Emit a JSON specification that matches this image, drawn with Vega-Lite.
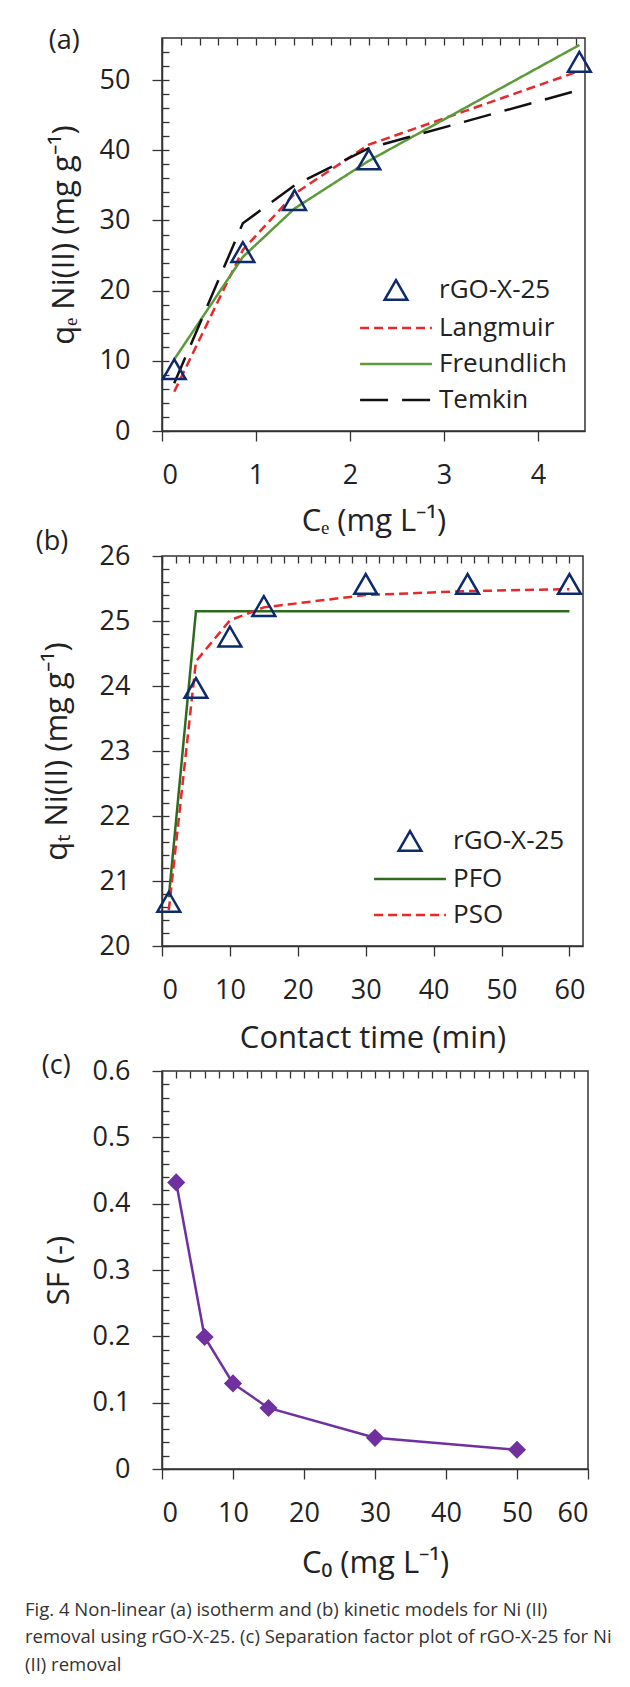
{
  "$schema": "https://vega.github.io/schema/vega-lite/v6.json",
  "background": "white",
  "padding": {"left": 25, "top": 26, "right": 5, "bottom": 5},
  "spacing": 125,
  "bounds": "flush",
  "config": {
    "font": "Open Sans",
    "view": {"stroke": "#333333", "strokeWidth": 1.5},
    "axis": {"grid": false, "domainColor": "#333333", "domainWidth": 1.5, "tickColor": "#333333", "tickWidth": 1.3, "labelFont": "Open Sans", "labelFontSize": 27, "labelColor": "#222222", "titleFont": "Open Sans", "titleFontSize": 31, "titleFontWeight": "normal", "titleColor": "#222222"},
    "legend": {"orient": "bottom-right", "offset": 18, "padding": 0, "labelFont": "Open Sans", "labelFontSize": 26, "labelColor": "#222222", "symbolSize": 520, "symbolStrokeWidth": 2.5, "symbolFillColor": "transparent", "labelOffset": 30, "rowPadding": 10, "symbolOpacity": 1}
  },
  "datasets": {
    "iso": [
      {"series": "rGO-X-25", "C": 0.13, "q": 8.8},
      {"series": "rGO-X-25", "C": 0.86, "q": 25.5},
      {"series": "rGO-X-25", "C": 1.41, "q": 32.9},
      {"series": "rGO-X-25", "C": 2.2, "q": 38.7},
      {"series": "rGO-X-25", "C": 4.44, "q": 52.6},
      {"series": "Langmuir", "C": 0.13, "q": 5.6},
      {"series": "Langmuir", "C": 0.86, "q": 25.8},
      {"series": "Langmuir", "C": 1.41, "q": 33.8},
      {"series": "Langmuir", "C": 2.2, "q": 40.8},
      {"series": "Langmuir", "C": 4.44, "q": 51.3},
      {"series": "Freundlich", "C": 0.13, "q": 10.2},
      {"series": "Freundlich", "C": 0.86, "q": 24.8},
      {"series": "Freundlich", "C": 1.41, "q": 31.7},
      {"series": "Freundlich", "C": 2.2, "q": 38.5},
      {"series": "Freundlich", "C": 4.44, "q": 55.0},
      {"series": "Temkin", "C": 0.13, "q": 6.8},
      {"series": "Temkin", "C": 0.86, "q": 29.6},
      {"series": "Temkin", "C": 1.41, "q": 35.0},
      {"series": "Temkin", "C": 2.2, "q": 40.3},
      {"series": "Temkin", "C": 4.44, "q": 48.6}
    ],
    "kin": [
      {"series": "rGO-X-25", "t": 1, "q": 20.68},
      {"series": "rGO-X-25", "t": 5, "q": 23.97},
      {"series": "rGO-X-25", "t": 10, "q": 24.76},
      {"series": "rGO-X-25", "t": 15, "q": 25.23},
      {"series": "rGO-X-25", "t": 30, "q": 25.57},
      {"series": "rGO-X-25", "t": 45, "q": 25.57},
      {"series": "rGO-X-25", "t": 60, "q": 25.57},
      {"series": "PFO", "t": 1, "q": 20.75},
      {"series": "PFO", "t": 5, "q": 25.15},
      {"series": "PFO", "t": 10, "q": 25.15},
      {"series": "PFO", "t": 15, "q": 25.15},
      {"series": "PFO", "t": 30, "q": 25.15},
      {"series": "PFO", "t": 45, "q": 25.15},
      {"series": "PFO", "t": 60, "q": 25.15},
      {"series": "PSO", "t": 1, "q": 20.55},
      {"series": "PSO", "t": 5, "q": 24.38},
      {"series": "PSO", "t": 10, "q": 25.01},
      {"series": "PSO", "t": 15, "q": 25.21},
      {"series": "PSO", "t": 30, "q": 25.4},
      {"series": "PSO", "t": 45, "q": 25.46},
      {"series": "PSO", "t": 60, "q": 25.49}
    ],
    "sf": [
      {"C0": 2, "SF": 0.432},
      {"C0": 6, "SF": 0.199},
      {"C0": 10, "SF": 0.129},
      {"C0": 15, "SF": 0.092},
      {"C0": 30, "SF": 0.047},
      {"C0": 50, "SF": 0.029}
    ]
  },
  "title": {
    "text": ["Fig. 4 Non-linear (a) isotherm and (b) kinetic models for Ni (II)", "removal using rGO-X-25. (c) Separation factor plot of rGO-X-25 for Ni", "(II) removal"],
    "orient": "bottom", "anchor": "start", "baseline": "top",
    "font": "Open Sans", "fontSize": 18.5, "fontWeight": "normal", "color": "#333333", "lineHeight": 27.5,
    "offset": 22, "dx": -10
  },
  "resolve": {
    "scale": {"color": "independent", "shape": "independent", "strokeDash": "independent"},
    "legend": {"color": "independent", "shape": "independent", "strokeDash": "independent"}
  },
  "vconcat": [
    {
      "width": 423,
      "height": 393,
      "resolve": {"axis": {"x": "independent", "y": "independent"}},
      "layer": [
        {
          "data": {"name": "iso"},
          "transform": [{"filter": "datum.series !== 'rGO-X-25'"}],
          "mark": {"type": "line", "strokeWidth": 2.5},
          "encoding": {
            "x": {"field": "C", "type": "quantitative", "scale": {"domain": [0, 4.5], "nice": false, "zero": false},
              "axis": {"orient": "bottom", "values": [0, 1, 2, 3, 4], "tickSize": 10, "labelPadding": 21, "title": "Cₑ (mg L⁻¹)", "titleY": 90, "titleBaseline": "middle"}},
            "y": {"field": "q", "type": "quantitative", "scale": {"domain": [0, 56], "nice": false, "zero": false},
              "axis": {"orient": "left", "values": [0, 10, 20, 30, 40, 50], "tickSize": 10, "labelPadding": 22, "title": "qₑ Ni(II) (mg g⁻¹)", "titleX": -98, "titleBaseline": "middle"}},
            "color": {"field": "series", "type": "nominal", "title": null,
              "scale": {"domain": ["rGO-X-25", "Langmuir", "Freundlich", "Temkin"], "range": ["#0d2a6b", "#e8282b", "#5c9a3a", "#111111"]}},
            "strokeDash": {"field": "series", "type": "nominal", "title": null,
              "scale": {"domain": ["rGO-X-25", "Langmuir", "Freundlich", "Temkin"], "range": [[1, 0], [9, 5], [1, 0], [28, 14]]}}
          }
        },
        {
          "data": {"name": "iso"},
          "transform": [{"filter": "datum.series === 'rGO-X-25'"}],
          "mark": {"type": "point", "filled": false, "size": 520, "strokeWidth": 2.5, "opacity": 1},
          "encoding": {
            "x": {"field": "C", "type": "quantitative",
              "axis": {"orient": "bottom", "values": [0, 0.2, 0.4, 0.6, 0.8, 1, 1.2, 1.4, 1.6, 1.8, 2, 2.2, 2.4, 2.6, 2.8, 3, 3.2, 3.4, 3.6, 3.8, 4, 4.2, 4.4], "ticks": false, "labels": false, "domain": false, "title": null, "grid": true, "gridDash": [7, 2000], "gridColor": "#333333", "gridWidth": 1.3, "gridOpacity": 1}},
            "y": {"field": "q", "type": "quantitative",
              "axis": {"orient": "left", "values": [0, 2, 4, 6, 8, 10, 12, 14, 16, 18, 20, 22, 24, 26, 28, 30, 32, 34, 36, 38, 40, 42, 44, 46, 48, 50, 52, 54], "ticks": false, "labels": false, "domain": false, "title": null, "grid": true, "gridDash": [7, 2000], "gridColor": "#333333", "gridWidth": 1.3, "gridOpacity": 1}},
            "color": {"field": "series", "type": "nominal", "title": null,
              "scale": {"domain": ["rGO-X-25", "Langmuir", "Freundlich", "Temkin"], "range": ["#0d2a6b", "#e8282b", "#5c9a3a", "#111111"]}},
            "shape": {"field": "series", "type": "nominal", "title": null,
              "scale": {"domain": ["rGO-X-25", "Langmuir", "Freundlich", "Temkin"], "range": ["triangle-up", "M-3.15,0H3.15", "M-3.15,0H3.15", "M-3.15,0H3.15"]}}
          }
        },
        {
          "data": {"values": [{"label": "(a)"}]},
          "mark": {"type": "text", "font": "Open Sans", "fontSize": 27, "color": "#222222"},
          "encoding": {
            "x": {"datum": -1.04, "type": "quantitative", "axis": null},
            "y": {"datum": 55.6, "type": "quantitative", "axis": null},
            "text": {"field": "label"}
          }
        }
      ]
    },
    {
      "width": 421,
      "height": 390,
      "resolve": {"axis": {"x": "independent", "y": "independent"}},
      "layer": [
        {
          "data": {"name": "kin"},
          "transform": [{"filter": "datum.series !== 'rGO-X-25'"}],
          "mark": {"type": "line", "strokeWidth": 2.5},
          "encoding": {
            "x": {"field": "t", "type": "quantitative", "scale": {"domain": [0, 62], "nice": false, "zero": false},
              "axis": {"orient": "bottom", "values": [0, 10, 20, 30, 40, 50, 60], "tickSize": 10, "labelPadding": 21, "title": "Contact time (min)", "titleY": 92, "titleBaseline": "middle"}},
            "y": {"field": "q", "type": "quantitative", "scale": {"domain": [20, 26], "nice": false, "zero": false},
              "axis": {"orient": "left", "values": [20, 21, 22, 23, 24, 25, 26], "tickSize": 10, "labelPadding": 22, "title": "qₜ Ni(II) (mg g⁻¹)", "titleX": -105, "titleBaseline": "middle"}},
            "color": {"field": "series", "type": "nominal", "title": null,
              "scale": {"domain": ["rGO-X-25", "PFO", "PSO"], "range": ["#0d2a6b", "#2f6b1e", "#e8282b"]}},
            "strokeDash": {"field": "series", "type": "nominal", "title": null,
              "scale": {"domain": ["rGO-X-25", "PFO", "PSO"], "range": [[1, 0], [1, 0], [9, 5]]}}
          }
        },
        {
          "data": {"name": "kin"},
          "transform": [{"filter": "datum.series === 'rGO-X-25'"}],
          "mark": {"type": "point", "filled": false, "size": 520, "strokeWidth": 2.5, "opacity": 1},
          "encoding": {
            "x": {"field": "t", "type": "quantitative",
              "axis": {"orient": "bottom", "values": [0, 2, 4, 6, 8, 10, 12, 14, 16, 18, 20, 22, 24, 26, 28, 30, 32, 34, 36, 38, 40, 42, 44, 46, 48, 50, 52, 54, 56, 58, 60], "ticks": false, "labels": false, "domain": false, "title": null, "grid": true, "gridDash": [7, 2000], "gridColor": "#333333", "gridWidth": 1.3, "gridOpacity": 1}},
            "y": {"field": "q", "type": "quantitative",
              "axis": {"orient": "left", "values": [20, 20.2, 20.4, 20.6, 20.8, 21, 21.2, 21.4, 21.6, 21.8, 22, 22.2, 22.4, 22.6, 22.8, 23, 23.2, 23.4, 23.6, 23.8, 24, 24.2, 24.4, 24.6, 24.8, 25, 25.2, 25.4, 25.6, 25.8], "ticks": false, "labels": false, "domain": false, "title": null, "grid": true, "gridDash": [7, 2000], "gridColor": "#333333", "gridWidth": 1.3, "gridOpacity": 1}},
            "color": {"field": "series", "type": "nominal", "title": null,
              "scale": {"domain": ["rGO-X-25", "PFO", "PSO"], "range": ["#0d2a6b", "#2f6b1e", "#e8282b"]}},
            "shape": {"field": "series", "type": "nominal", "title": null,
              "scale": {"domain": ["rGO-X-25", "PFO", "PSO"], "range": ["triangle-up", "M-3.15,0H3.15", "M-3.15,0H3.15"]}}
          }
        },
        {
          "data": {"values": [{"label": "(b)"}]},
          "mark": {"type": "text", "font": "Open Sans", "fontSize": 27, "color": "#222222"},
          "encoding": {
            "x": {"datum": -16.2, "type": "quantitative", "axis": null},
            "y": {"datum": 26.22, "type": "quantitative", "axis": null},
            "text": {"field": "label"}
          }
        }
      ]
    },
    {
      "width": 426,
      "height": 398,
      "resolve": {"axis": {"x": "independent", "y": "independent"}},
      "layer": [
        {
          "data": {"name": "sf"},
          "mark": {"type": "line", "strokeWidth": 2.5, "color": "#7030a0"},
          "encoding": {
            "x": {"field": "C0", "type": "quantitative", "scale": {"domain": [0, 60], "nice": false, "zero": false},
              "axis": {"orient": "bottom", "values": [0, 10, 20, 30, 40, 50, 60], "tickSize": 10, "labelPadding": 21, "title": "C₀ (mg L⁻¹)", "titleY": 94, "titleBaseline": "middle"}},
            "y": {"field": "SF", "type": "quantitative", "scale": {"domain": [0, 0.6], "nice": false, "zero": false},
              "axis": {"orient": "left", "values": [0, 0.1, 0.2, 0.3, 0.4, 0.5, 0.6], "format": ".1~f", "tickSize": 10, "labelPadding": 22, "title": "SF (-)", "titleX": -103, "titleBaseline": "middle"}}
          }
        },
        {
          "data": {"name": "sf"},
          "mark": {"type": "point", "shape": "diamond", "filled": true, "size": 330, "color": "#7030a0", "opacity": 1},
          "encoding": {
            "x": {"field": "C0", "type": "quantitative",
              "axis": {"orient": "bottom", "values": [0, 2, 4, 6, 8, 10, 12, 14, 16, 18, 20, 22, 24, 26, 28, 30, 32, 34, 36, 38, 40, 42, 44, 46, 48, 50, 52, 54, 56, 58], "ticks": false, "labels": false, "domain": false, "title": null, "grid": true, "gridDash": [7, 2000], "gridColor": "#333333", "gridWidth": 1.3, "gridOpacity": 1}},
            "y": {"field": "SF", "type": "quantitative",
              "axis": {"orient": "left", "values": [0, 0.02, 0.04, 0.06, 0.08, 0.1, 0.12, 0.14, 0.16, 0.18, 0.2, 0.22, 0.24, 0.26, 0.28, 0.3, 0.32, 0.34, 0.36, 0.38, 0.4, 0.42, 0.44, 0.46, 0.48, 0.5, 0.52, 0.54, 0.56, 0.58], "ticks": false, "labels": false, "domain": false, "title": null, "grid": true, "gridDash": [7, 2000], "gridColor": "#333333", "gridWidth": 1.3, "gridOpacity": 1}}
          }
        },
        {
          "data": {"values": [{"label": "(c)"}]},
          "mark": {"type": "text", "font": "Open Sans", "fontSize": 27, "color": "#222222"},
          "encoding": {
            "x": {"datum": -14.9, "type": "quantitative", "axis": null},
            "y": {"datum": 0.6075, "type": "quantitative", "axis": null},
            "text": {"field": "label"}
          }
        }
      ]
    }
  ]
}
